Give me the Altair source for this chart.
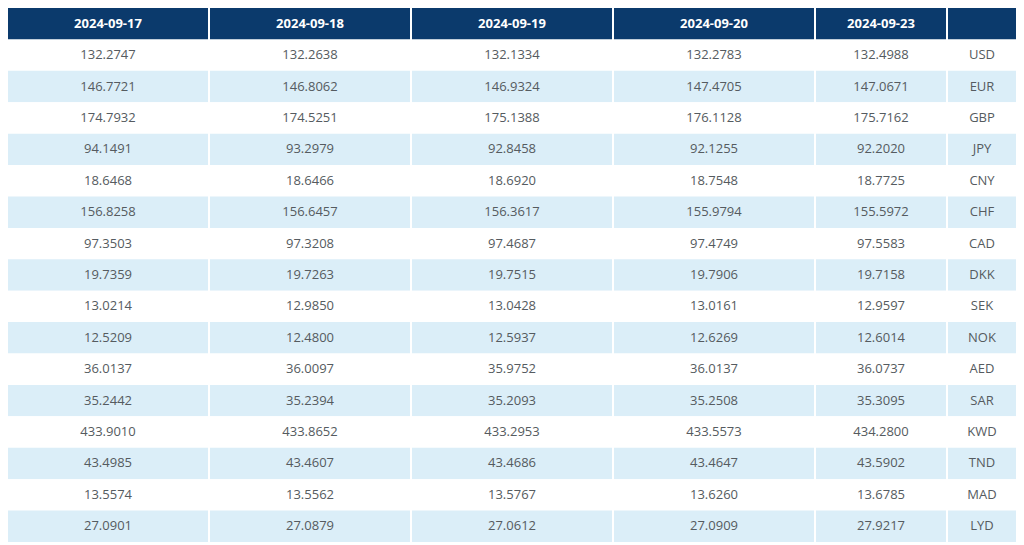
import altair as alt
import pandas as pd

dates = ["2024-09-17", "2024-09-18", "2024-09-19", "2024-09-20", "2024-09-23"]
currencies = ["USD", "EUR", "GBP", "JPY", "CNY", "CHF", "CAD", "DKK",
              "SEK", "NOK", "AED", "SAR", "KWD", "TND", "MAD", "LYD"]
rates_0917 = [132.2747, 146.7721, 174.7932, 94.1491, 18.6468, 156.8258, 97.3503, 19.7359,
              13.0214, 12.5209, 36.0137, 35.2442, 433.9010, 43.4985, 13.5574, 27.0901]
rates_0918 = [132.2638, 146.8062, 174.5251, 93.2979, 18.6466, 156.6457, 97.3208, 19.7263,
              12.9850, 12.4800, 36.0097, 35.2394, 433.8652, 43.4607, 13.5562, 27.0879]
rates_0919 = [132.1334, 146.9324, 175.1388, 92.8458, 18.6920, 156.3617, 97.4687, 19.7515,
              13.0428, 12.5937, 35.9752, 35.2093, 433.2953, 43.4686, 13.5767, 27.0612]
rates_0920 = [132.2783, 147.4705, 176.1128, 92.1255, 18.7548, 155.9794, 97.4749, 19.7906,
              13.0161, 12.6269, 36.0137, 35.2508, 433.5573, 43.4647, 13.6260, 27.0909]
rates_0923 = [132.4988, 147.0671, 175.7162, 92.2020, 18.7725, 155.5972, 97.5583, 19.7158,
              12.9597, 12.6014, 36.0737, 35.3095, 434.2800, 43.5902, 13.6785, 27.9217]

NAVY = "#0b3a6c"
STRIPE = "#dbeef8"
TEXT = "#555b60"
FONT = "Open Sans"
HEIGHT = 534
N_ROWS = len(currencies) + 1


def column_frame(header, cells):
    rows = [{"row": 0, "kind": "header", "label": header}]
    for i, c in enumerate(cells):
        rows.append({"row": i + 1, "kind": "odd" if i % 2 == 1 else "even", "label": c})
    return pd.DataFrame(rows)


def panel(df, width):
    yenc = alt.Y("row:O", axis=None,
                 scale=alt.Scale(domain=list(range(N_ROWS)), paddingInner=0, paddingOuter=0))
    base = alt.Chart(df)
    bg = base.mark_rect().encode(
        y=yenc,
        x=alt.value(0),
        x2=alt.value(width),
        fill=alt.Fill("kind:N", legend=None,
                      scale=alt.Scale(domain=["header", "even", "odd"],
                                      range=[NAVY, "#ffffff", STRIPE])),
    )
    head = base.transform_filter(alt.datum.kind == "header").mark_text(
        font=FONT, fontSize=13, fontWeight="bold", color="#ffffff", align="center", baseline="middle"
    ).encode(y=yenc, x=alt.value(width / 2), text="label:N")
    body = base.transform_filter(alt.datum.kind != "header").mark_text(
        font=FONT, fontSize=13, color=TEXT, align="center", baseline="middle"
    ).encode(y=yenc, x=alt.value(width / 2), text="label:N")
    return alt.layer(bg, head, body).properties(width=width, height=HEIGHT)


series = [rates_0917, rates_0918, rates_0919, rates_0920, rates_0923]
widths = [200, 200, 200, 200, 130, 68]
panels = []
for d, vals, w in zip(dates, series, widths):
    panels.append(panel(column_frame(d, [f"{v:.4f}" for v in vals]), w))
panels.append(panel(column_frame("", currencies), widths[-1]))

chart = alt.hconcat(*panels, spacing=2).properties(
    padding=0
).configure_view(stroke=None)

chart.save("out.html", embed_options={"renderer": "svg", "actions": False})
